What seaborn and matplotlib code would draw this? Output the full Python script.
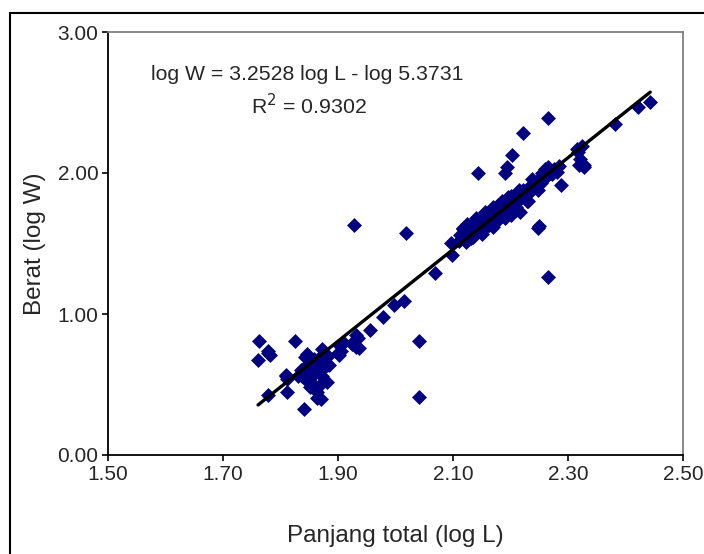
import seaborn as sns
import matplotlib.pyplot as plt
import matplotlib.patches as mpatches
import numpy as np
import pandas as pd

# log L (x) and log W (y)
log_l = [
    1.763, 1.761, 1.778, 1.781, 1.779, 1.778, 1.825, 1.810, 1.812, 1.840,
    1.863, 1.873, 1.870, 1.864, 1.846, 1.843, 1.809, 1.811, 1.830, 1.835,
    1.840, 1.845, 1.850, 1.852, 1.855, 1.858, 1.860, 1.862, 1.865, 1.868,
    1.870, 1.872, 1.875, 1.878, 1.880, 1.882, 1.885, 1.880, 1.872, 1.858,
    1.852, 1.845, 1.838, 1.850, 1.868,
    1.900, 1.902, 1.905, 1.903, 1.908, 1.925, 1.928, 1.931, 1.931, 1.937,
    1.935, 1.927, 1.955, 1.978, 1.998, 2.014, 2.018, 2.041, 2.041, 2.069,
    2.096, 2.098,
    2.110, 2.112, 2.115, 2.118, 2.120, 2.122, 2.125, 2.128, 2.130, 2.132,
    2.135, 2.138, 2.140, 2.142, 2.145, 2.147, 2.150, 2.152, 2.155, 2.157,
    2.160, 2.162, 2.165, 2.167, 2.170, 2.172, 2.175, 2.178, 2.180, 2.182,
    2.185, 2.188, 2.190, 2.192, 2.195, 2.198, 2.200, 2.203, 2.206, 2.210,
    2.213, 2.216, 2.218, 2.222, 2.225, 2.228, 2.232, 2.235, 2.240, 2.243,
    2.248, 2.250, 2.253, 2.257, 2.260, 2.262, 2.265, 2.268, 2.272, 2.276,
    2.280, 2.284, 2.135, 2.143, 2.190, 2.194, 2.202, 2.222, 2.265, 2.265,
    2.249, 2.247, 2.288, 2.319, 2.327, 2.327, 2.316, 2.324, 2.317, 2.320,
    2.381, 2.422, 2.443,
    2.125, 2.140, 2.155, 2.170, 2.185, 2.200, 2.215, 2.150, 2.170, 2.190,
    2.210, 2.230, 2.118, 2.160, 2.178, 2.195, 2.238, 2.255,
]
log_w = [
    0.807, 0.677, 0.739, 0.707, 0.720, 0.426, 0.807, 0.559, 0.444, 0.326,
    0.401, 0.752, 0.398, 0.445, 0.718, 0.695, 0.564, 0.540, 0.560, 0.600,
    0.620, 0.580, 0.640, 0.600, 0.560, 0.680, 0.620, 0.590, 0.660, 0.640,
    0.700, 0.610, 0.680, 0.660, 0.640, 0.700, 0.640, 0.520, 0.560, 0.500,
    0.480, 0.530, 0.560, 0.520, 0.500,
    0.720, 0.706, 0.740, 0.770, 0.800, 0.790, 0.810, 0.852, 0.764, 0.760,
    0.830, 1.629, 0.890, 0.977, 1.065, 1.090, 1.571, 0.807, 0.409, 1.291,
    1.501, 1.416,
    1.520, 1.560, 1.540, 1.600, 1.580, 1.510, 1.620, 1.570, 1.600, 1.540,
    1.640, 1.610, 1.580, 1.660, 1.630, 1.600, 1.680, 1.650, 1.610, 1.700,
    1.660, 1.630, 1.720, 1.690, 1.650, 1.740, 1.700, 1.670, 1.760, 1.730,
    1.700, 1.780, 1.750, 1.720, 1.800, 1.770, 1.700, 1.820, 1.790, 1.760,
    1.850, 1.722, 1.820, 1.880, 1.840, 1.800, 1.900, 1.870, 1.930, 1.900,
    1.876, 1.960, 1.930, 2.000, 2.030, 1.970, 2.040, 2.000, 1.990, 2.030,
    2.010, 2.050, 1.545, 1.997, 1.997, 2.043, 2.125, 2.281, 2.393, 1.261,
    1.622, 1.609, 1.917, 2.055, 2.055, 2.040, 2.168, 2.193, 2.150, 2.100,
    2.348, 2.469, 2.506,
    1.640, 1.680, 1.720, 1.760, 1.800, 1.840, 1.880, 1.570, 1.620, 1.680,
    1.740, 1.800, 1.610, 1.710, 1.770, 1.830, 1.960, 2.000,
]

# trendline
slope = 3.2528
intercept = -5.3731

x_ticks = [1.50, 1.70, 1.90, 2.10, 2.30, 2.50]
y_ticks = [0.00, 1.00, 2.00, 3.00]

data = pd.DataFrame({'log_l': log_l, 'log_w': log_w})
x_line = np.array([min(log_l), max(log_l)])
line = pd.DataFrame({'x': x_line, 'y': slope * x_line + intercept})

sns.set_style('white')
plt.rcParams['font.family'] = ['Liberation Sans', 'DejaVu Sans']

fig = plt.figure(figsize=(7.04, 5.54), dpi=100)
ax = fig.add_axes([108 / 704, 1 - 455 / 554, (683 - 108) / 704, (455 - 32) / 554])

sns.scatterplot(data=data, x='log_l', y='log_w', marker='D', s=58,
                color='#000080', linewidth=0, ax=ax, zorder=2)
sns.lineplot(data=line, x='x', y='y', color='black', linewidth=2.4,
             ax=ax, zorder=3)

ax.set_xlim(1.5, 2.5)
ax.set_ylim(0, 3)
ax.set_xticks(x_ticks)
ax.set_yticks(y_ticks)
ax.set_xticklabels([f'{v:.2f}' for v in x_ticks], fontsize=15)
ax.set_yticklabels([f'{v:.2f}' for v in y_ticks], fontsize=15)
ax.tick_params(axis='both', direction='out', length=4, width=1.2,
               color='black', bottom=True, left=True, pad=3)

ax.set_xlabel('Panjang total (log L)', fontsize=17.5, labelpad=30)
ax.set_ylabel('Berat (log W)', fontsize=17.5, labelpad=8)

for side in ['left', 'bottom']:
    ax.spines[side].set_color('black')
    ax.spines[side].set_linewidth(1.3)
for side in ['top', 'right']:
    ax.spines[side].set_color('#808080')
    ax.spines[side].set_linewidth(1.3)

ax.text(0.347, 0.9, 'log W = 3.2528 log L - log 5.3731', transform=ax.transAxes,
        ha='center', va='center', fontsize=15.3)
ax.text(0.35, 0.826, 'R$^2$ = 0.9302', transform=ax.transAxes,
        ha='center', va='center', fontsize=15.3)

# outer chart frame
frame = mpatches.Rectangle((10 / 704, -0.1), 1.1, 1 - 13 / 554 + 0.1,
                           transform=fig.transFigure, fill=False,
                           edgecolor='black', linewidth=1.5)
fig.patches.append(frame)

plt.savefig('out.png', dpi=100)
